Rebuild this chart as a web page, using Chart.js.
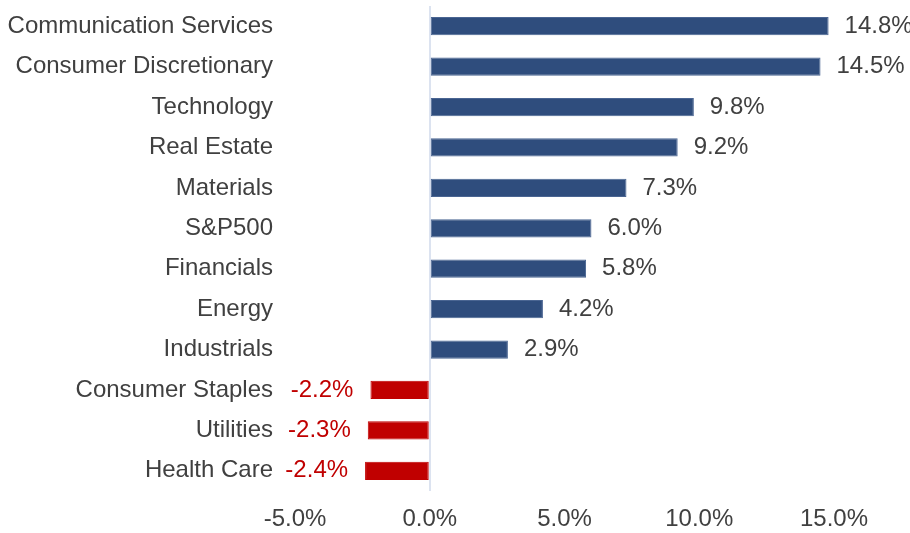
<!DOCTYPE html>
<html>
<head>
<meta charset="utf-8">
<script src="https://cdn.jsdelivr.net/npm/chart.js@4"></script>
<style>
  html, body { margin: 0; padding: 0; background: #fff; }
  #wrap { width: 910px; height: 533px; }
</style>
</head>
<body>
<div id="wrap"><canvas id="sectors"></canvas></div>
<script>
// Sector returns
const sectors = ["Communication Services", "Consumer Discretionary", "Technology", "Real Estate",
    "Materials", "S&P500", "Financials", "Energy", "Industrials",
    "Consumer Staples", "Utilities", "Health Care"];
const returns = [14.8, 14.5, 9.8, 9.2, 7.3, 6.0, 5.8, 4.2, 2.9, -2.2, -2.3, -2.4];
const xTicks = [-5, 0, 5, 10, 15];

const blue = "#2F4D7D";
const red = "#C00000";
const textGray = "#404040";
const fontFamily = "'Liberation Sans', Arial, sans-serif";
const fontSize = 24;

// labels next to the bars
const barLabels = {
    id: "barLabels",
    afterDatasetsDraw(chart) {
        const ctx = chart.ctx;
        const meta = chart.getDatasetMeta(0);
        ctx.save();
        ctx.font = fontSize + "px " + fontFamily;
        ctx.textBaseline = "middle";
        meta.data.forEach((bar, i) => {
            const v = returns[i];
            const txt = v.toFixed(1) + "%";
            if (v >= 0) {
                ctx.fillStyle = textGray;
                ctx.textAlign = "left";
                ctx.fillText(txt, bar.x + 16, bar.y);
            } else {
                ctx.fillStyle = red;
                ctx.textAlign = "right";
                ctx.fillText(txt, bar.x - 17, bar.y);
            }
        });
        ctx.restore();
    }
};

const graphSectors = new Chart(document.getElementById("sectors"), {
    type: "bar",
    data: {
        labels: sectors,
        datasets: [{
            data: returns,
            backgroundColor: returns.map(v => v >= 0 ? blue : red),
            borderColor: returns.map(v => v >= 0 ? "#4A6592" : red),
            borderWidth: 1,
            borderSkipped: false,
            categoryPercentage: 1,
            barPercentage: 0.45
        }]
    },
    options: {
        indexAxis: "y",
        responsive: true,
        maintainAspectRatio: false,
        animation: false,
        layout: { padding: { left: 8, right: 76, top: 6, bottom: 0 } },
        plugins: {
            legend: { display: false },
            tooltip: { enabled: false }
        },
        scales: {
            x: {
                min: -5,
                max: 15,
                afterBuildTicks: (scale) => { scale.ticks = xTicks.map(v => ({ value: v })); },
                afterFit: (scale) => {
                    scale.height = 42;
                    scale.paddingLeft = 0;
                    scale.paddingRight = 0;
                },
                border: { display: false },
                grid: {
                    drawTicks: false,
                    lineWidth: 2,
                    color: (c) => c.tick && c.tick.value === 0 ? "#DCE3F0" : "rgba(0,0,0,0)"
                },
                ticks: {
                    padding: 14,
                    color: textGray,
                    font: { family: fontFamily, size: fontSize },
                    callback: (v) => Number(v).toFixed(1) + "%"
                }
            },
            y: {
                border: { display: false },
                grid: { display: false, drawTicks: false },
                afterFit: (scale) => {
                    scale.width = 287;
                    scale.paddingTop = 0;
                    scale.paddingBottom = 0;
                },
                ticks: {
                    padding: 22,
                    color: textGray,
                    font: { family: fontFamily, size: fontSize }
                }
            }
        }
    },
    plugins: [barLabels]
});
</script>
</body>
</html>
